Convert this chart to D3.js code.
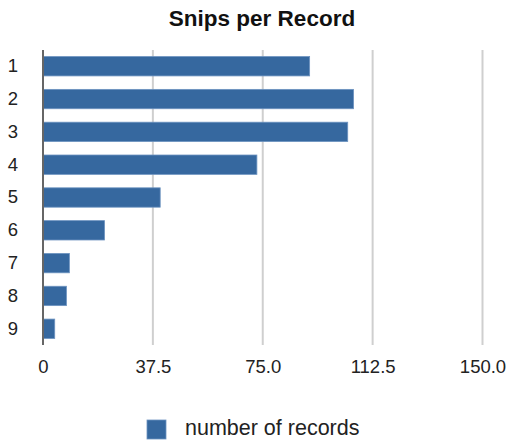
<!DOCTYPE html>
<html>
  <head>
    <meta charset="utf-8">
    <title>Snips per Record</title>
    <script src="https://cdn.jsdelivr.net/npm/d3@7"></script>
    <style>
      html, body { margin: 0; padding: 0; background: #fff; }
      svg text { font-family: "Liberation Sans", Arial, sans-serif; fill: #222; }
    </style>
  </head>
  <body>
    <div id="chart"></div>
    <script>
      // data
      var categories = ["1", "2", "3", "4", "5", "6", "7", "8", "9"];
      var records = [91, 106, 104, 73, 40, 21, 9, 8, 4];
      var xTicks = [0, 37.5, 75, 112.5, 150];
      var xTickLabels = ["0", "37.5", "75.0", "112.5", "150.0"];
      var seriesName = "number of records";

      var w = 509, h = 440;
      var svg = d3.select("#chart").append("svg")
        .attr("width", w)
        .attr("height", h);

      var x = d3.scaleLinear().domain([0, 150]).range([43, 482.5]);
      var y = d3.scaleBand().domain(categories).range([50, 345]).paddingInner(0.41).paddingOuter(0.2);

      // title
      svg.append("text")
        .attr("x", 262)
        .attr("y", 26)
        .attr("text-anchor", "middle")
        .style("font-size", "22.5px")
        .style("font-weight", "bold")
        .style("fill", "#111")
        .text("Snips per Record");

      // gridlines
      svg.selectAll("line.grid")
        .data(xTicks.slice(1))
        .enter()
        .append("line")
        .attr("class", "grid")
        .attr("x1", function(d) { return x(d); })
        .attr("x2", function(d) { return x(d); })
        .attr("y1", 50)
        .attr("y2", 345)
        .attr("stroke", "#cfcfcf")
        .attr("stroke-width", 2);

      // bars
      svg.selectAll("rect.bar")
        .data(records)
        .enter()
        .append("rect")
        .attr("class", "bar")
        .attr("x", x(0))
        .attr("y", function(d, i) { return y(categories[i]); })
        .attr("width", function(d) { return x(d) - x(0); })
        .attr("height", y.bandwidth())
        .attr("fill", "#36689f")
        .attr("stroke", "#6d93c0")
        .attr("stroke-width", 0.8);

      // value axis line
      svg.append("line")
        .attr("x1", x(0))
        .attr("x2", x(0))
        .attr("y1", 50)
        .attr("y2", 345)
        .attr("stroke", "#666")
        .attr("stroke-width", 2);

      // x tick labels
      var xAxis = d3.axisBottom(x)
        .tickValues(xTicks)
        .tickFormat(function(d, i) { return xTickLabels[i]; })
        .tickSize(0)
        .tickPadding(0);
      var gx = svg.append("g")
        .attr("transform", "translate(0,360)")
        .call(xAxis);
      gx.select(".domain").remove();
      gx.selectAll("text")
        .style("font-family", "Liberation Sans, Arial, sans-serif")
        .style("font-size", "18.5px")
        .attr("fill", "#222")
        .attr("dy", "0.72em");

      // y category labels
      var yAxis = d3.axisLeft(y).tickSize(0).tickPadding(0);
      var gy = svg.append("g")
        .attr("transform", "translate(18,0)")
        .call(yAxis);
      gy.select(".domain").remove();
      gy.selectAll("text")
        .style("font-family", "Liberation Sans, Arial, sans-serif")
        .style("font-size", "18.5px")
        .attr("fill", "#222")
        .attr("text-anchor", "middle")
        .attr("x", -5);

      // legend
      svg.append("rect")
        .attr("x", 147)
        .attr("y", 420)
        .attr("width", 19)
        .attr("height", 19)
        .attr("fill", "#36689f")
        .attr("stroke", "#6d93c0")
        .attr("stroke-width", 0.8);
      svg.append("text")
        .attr("x", 185)
        .attr("y", 435)
        .style("font-size", "21.5px")
        .text(seriesName);
    </script>
  </body>
</html>
